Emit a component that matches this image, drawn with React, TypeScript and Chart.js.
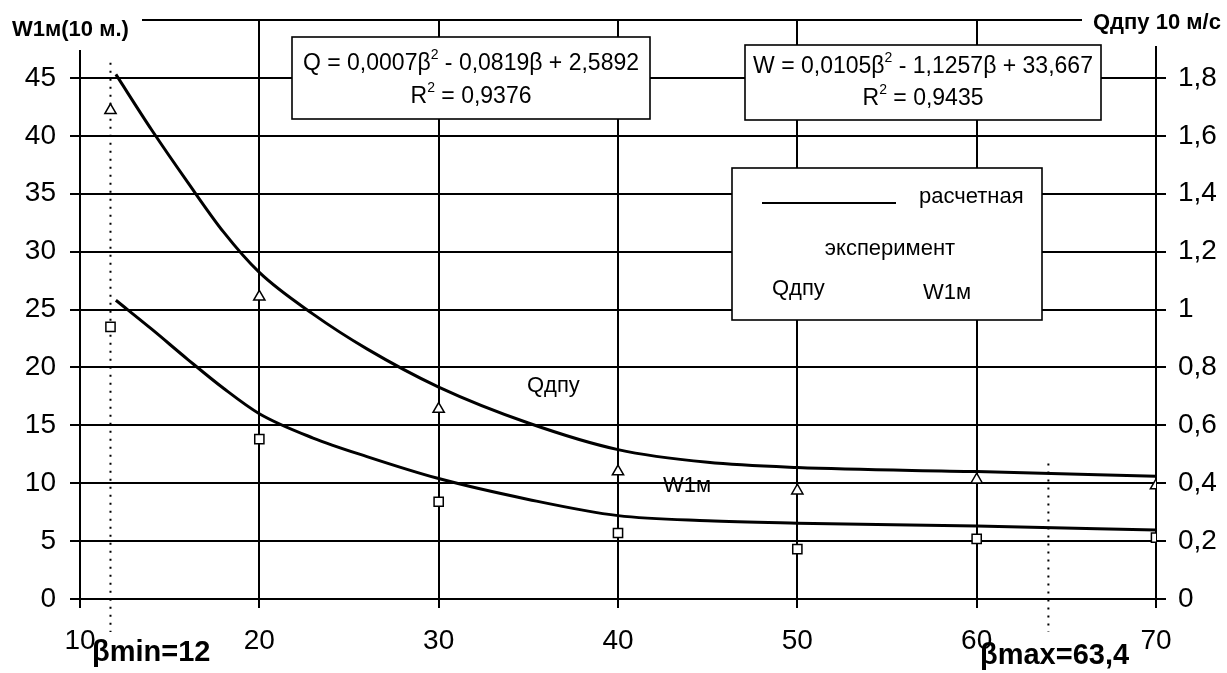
import React, { useEffect, useRef } from 'react';
import { Chart, registerables } from 'chart.js';

Chart.register(...registerables);

// ---- data ----
const betaCurve = [12, 14, 16, 18, 20, 23, 26, 30, 35, 40, 45, 50, 60, 70];
// calculated Qдпу (right axis, 10 m/s)
const qCalc = [1.812, 1.62, 1.44, 1.268, 1.128, 0.984, 0.864, 0.732, 0.608, 0.516, 0.472, 0.454, 0.44, 0.424];
// calculated W1м (left axis)
const wCalc = [25.8, 23.3, 20.7, 18.2, 16.0, 13.9, 12.3, 10.4, 8.6, 7.2, 6.75, 6.55, 6.3, 5.95];
const betaExp = [11.7, 20, 30, 40, 50, 60, 70];
// experimental Qдпу (right axis)
const qExp = [1.688, 1.044, 0.656, 0.44, 0.374, 0.412, 0.392];
// experimental W1м (left axis)
const wExp = [23.5, 13.8, 8.4, 5.7, 4.3, 5.2, 5.3];
// βmin / βmax dotted markers
const betaLimits = [11.7, 64];
const betaLimitTop = [46.3, 11.7];

const leftTitle = 'W1м(10 м.)';
const rightTitle = 'Qдпу 10 м/с';
const qEquation = ['Q = 0,0007β', '2', ' - 0,0819β + 2,5892'];
const qR2 = ['R', '2', ' = 0,9376'];
const wEquation = ['W = 0,0105β', '2', ' - 1,1257β + 33,667'];
const wR2 = ['R', '2', ' = 0,9435'];

const FONT = '"Liberation Sans", Arial, sans-serif';

function drawRich(ctx: CanvasRenderingContext2D, segs: string[], cx: number, cy: number, size: number) {
  const normal = `${size}px ${FONT}`;
  const sup = `${Math.round(size * 0.62)}px ${FONT}`;
  let w = 0;
  segs.forEach((s, i) => {
    ctx.font = i % 2 === 1 ? sup : normal;
    w += ctx.measureText(s).width;
  });
  let x = cx - w / 2;
  ctx.textAlign = 'left';
  ctx.textBaseline = 'middle';
  ctx.fillStyle = '#000';
  segs.forEach((s, i) => {
    const isSup = i % 2 === 1;
    ctx.font = isSup ? sup : normal;
    ctx.fillText(s, x, isSup ? cy - size * 0.38 : cy);
    x += ctx.measureText(s).width;
  });
}

function box(ctx: CanvasRenderingContext2D, x1: number, y1: number, x2: number, y2: number) {
  ctx.fillStyle = '#fff';
  ctx.fillRect(x1, y1, x2 - x1, y2 - y1);
  ctx.strokeStyle = '#000';
  ctx.lineWidth = 1.6;
  ctx.strokeRect(x1, y1, x2 - x1, y2 - y1);
}

const overlay = {
  id: 'overlay',
  beforeDatasetsDraw(chart: any) {
    const ctx: CanvasRenderingContext2D = chart.ctx;
    const xs = chart.scales.x;
    const ys = chart.scales.y;
    ctx.save();
    ctx.strokeStyle = '#000';
    ctx.lineWidth = 2;
    ctx.setLineDash([2, 6]);
    betaLimits.forEach((b, i) => {
      const px = xs.getPixelForValue(b);
      ctx.beginPath();
      ctx.moveTo(px, ys.getPixelForValue(betaLimitTop[i]));
      ctx.lineTo(px, chart.chartArea.bottom + 33);
      ctx.stroke();
    });
    ctx.restore();
  },
  afterDraw(chart: any) {
    const ctx: CanvasRenderingContext2D = chart.ctx;
    ctx.save();
    // title cover areas
    ctx.fillStyle = '#fff';
    ctx.fillRect(0, 0, 142, 50);
    ctx.fillRect(1082, 0, 145, 46);
    ctx.fillStyle = '#000';
    ctx.textBaseline = 'middle';
    ctx.textAlign = 'left';
    ctx.font = `bold 22px ${FONT}`;
    ctx.fillText(leftTitle, 12, 30);
    ctx.fillText(rightTitle, 1093, 23);

    // equation boxes
    box(ctx, 292, 37, 650, 119);
    drawRich(ctx, qEquation, 471, 64, 23);
    drawRich(ctx, qR2, 471, 97, 23);
    box(ctx, 745, 45, 1101, 120);
    drawRich(ctx, wEquation, 923, 67, 23);
    drawRich(ctx, wR2, 923, 99, 23);

    // legend box
    box(ctx, 732, 168, 1042, 320);
    ctx.strokeStyle = '#000';
    ctx.lineWidth = 2;
    ctx.beginPath();
    ctx.moveTo(762, 203);
    ctx.lineTo(896, 203);
    ctx.stroke();
    ctx.fillStyle = '#000';
    ctx.font = `22px ${FONT}`;
    ctx.textAlign = 'left';
    ctx.fillText('расчетная', 919, 197);
    ctx.textAlign = 'center';
    ctx.fillText('эксперимент', 890, 249);
    ctx.textAlign = 'left';
    ctx.fillText('Qдпу', 772, 289);
    ctx.fillText('W1м', 923, 293);

    // curve labels
    ctx.fillText('Qдпу', 527, 386);
    ctx.fillText('W1м', 663, 486);

    // beta limits
    ctx.font = `bold 29px ${FONT}`;
    ctx.fillText('βmin=12', 92, 653);
    ctx.fillText('βmax=63,4', 980, 656);
    ctx.restore();
  },
};

function fmtComma(v: number) {
  return String(Number(v.toFixed(1))).replace('.', ',');
}

function fitY(width: number) {
  return (s: any) => {
    s.width = width;
    s.paddingTop = 0;
    s.paddingBottom = 0;
  };
}

export default function App() {
  const ref = useRef<HTMLCanvasElement | null>(null);

  useEffect(() => {
    document.body.style.margin = '0';
    const canvas = ref.current;
    if (!canvas) return;
    const chart = new Chart(canvas, {
      type: 'line',
      data: {
        datasets: [
          {
            label: 'Qдпу расчетная',
            data: betaCurve.map((b, i) => ({ x: b, y: qCalc[i] })),
            yAxisID: 'y1',
            borderColor: '#000',
            borderWidth: 3,
            pointRadius: 0,
            cubicInterpolationMode: 'monotone',
            fill: false,
          },
          {
            label: 'W1м расчетная',
            data: betaCurve.map((b, i) => ({ x: b, y: wCalc[i] })),
            yAxisID: 'y',
            borderColor: '#000',
            borderWidth: 3,
            pointRadius: 0,
            cubicInterpolationMode: 'monotone',
            fill: false,
          },
          {
            label: 'Qдпу эксперимент',
            data: betaExp.map((b, i) => ({ x: b, y: qExp[i] })),
            yAxisID: 'y1',
            showLine: false,
            pointStyle: 'triangle',
            pointRadius: 6.5,
            pointBackgroundColor: '#fff',
            pointBorderColor: '#000',
            pointBorderWidth: 1.5,
          },
          {
            label: 'W1м эксперимент',
            data: betaExp.map((b, i) => ({ x: b, y: wExp[i] })),
            yAxisID: 'y',
            showLine: false,
            pointStyle: 'rect',
            pointRadius: 6.5,
            pointBackgroundColor: '#fff',
            pointBorderColor: '#000',
            pointBorderWidth: 1.5,
          },
        ],
      },
      options: {
        responsive: false,
        animation: false,
        layout: { padding: { top: 20, left: 0, right: 0, bottom: 0 } },
        plugins: { legend: { display: false }, tooltip: { enabled: false } },
        scales: {
          x: {
            type: 'linear',
            min: 10,
            max: 70,
            ticks: {
              stepSize: 10,
              color: '#000',
              font: { size: 28, family: FONT },
              padding: 16,
              maxRotation: 0,
            },
            grid: { color: '#000', lineWidth: 2, tickLength: 9 },
            border: { color: '#000', width: 2 },
            afterFit: (s: any) => {
              s.height = 74;
              s.paddingLeft = 0;
              s.paddingRight = 0;
            },
          },
          y: {
            type: 'linear',
            position: 'left',
            min: 0,
            max: 50,
            ticks: {
              stepSize: 5,
              color: '#000',
              font: { size: 28, family: FONT },
              padding: 14,
              callback: (v: any) => (v === 50 ? '' : String(v)),
            },
            grid: { color: '#000', lineWidth: 2, tickLength: 10 },
            border: { color: '#000', width: 2 },
            afterFit: fitY(80),
          },
          y1: {
            type: 'linear',
            position: 'right',
            min: 0,
            max: 2,
            ticks: {
              stepSize: 0.2,
              color: '#000',
              font: { size: 28, family: FONT },
              padding: 12,
              callback: (v: any) => (Math.abs(v - 2) < 1e-6 ? '' : fmtComma(Number(v))),
            },
            grid: { color: '#000', lineWidth: 2, tickLength: 10, drawOnChartArea: false },
            border: { color: '#000', width: 2 },
            afterFit: fitY(71),
          },
        },
      },
      plugins: [overlay],
    } as any);
    return () => chart.destroy();
  }, []);

  return (
    <div style={{ position: 'absolute', left: 0, top: 0, width: 1227, height: 673, background: '#fff' }}>
      <canvas ref={ref} width={1227} height={673} style={{ display: 'block' }} />
    </div>
  );
}
